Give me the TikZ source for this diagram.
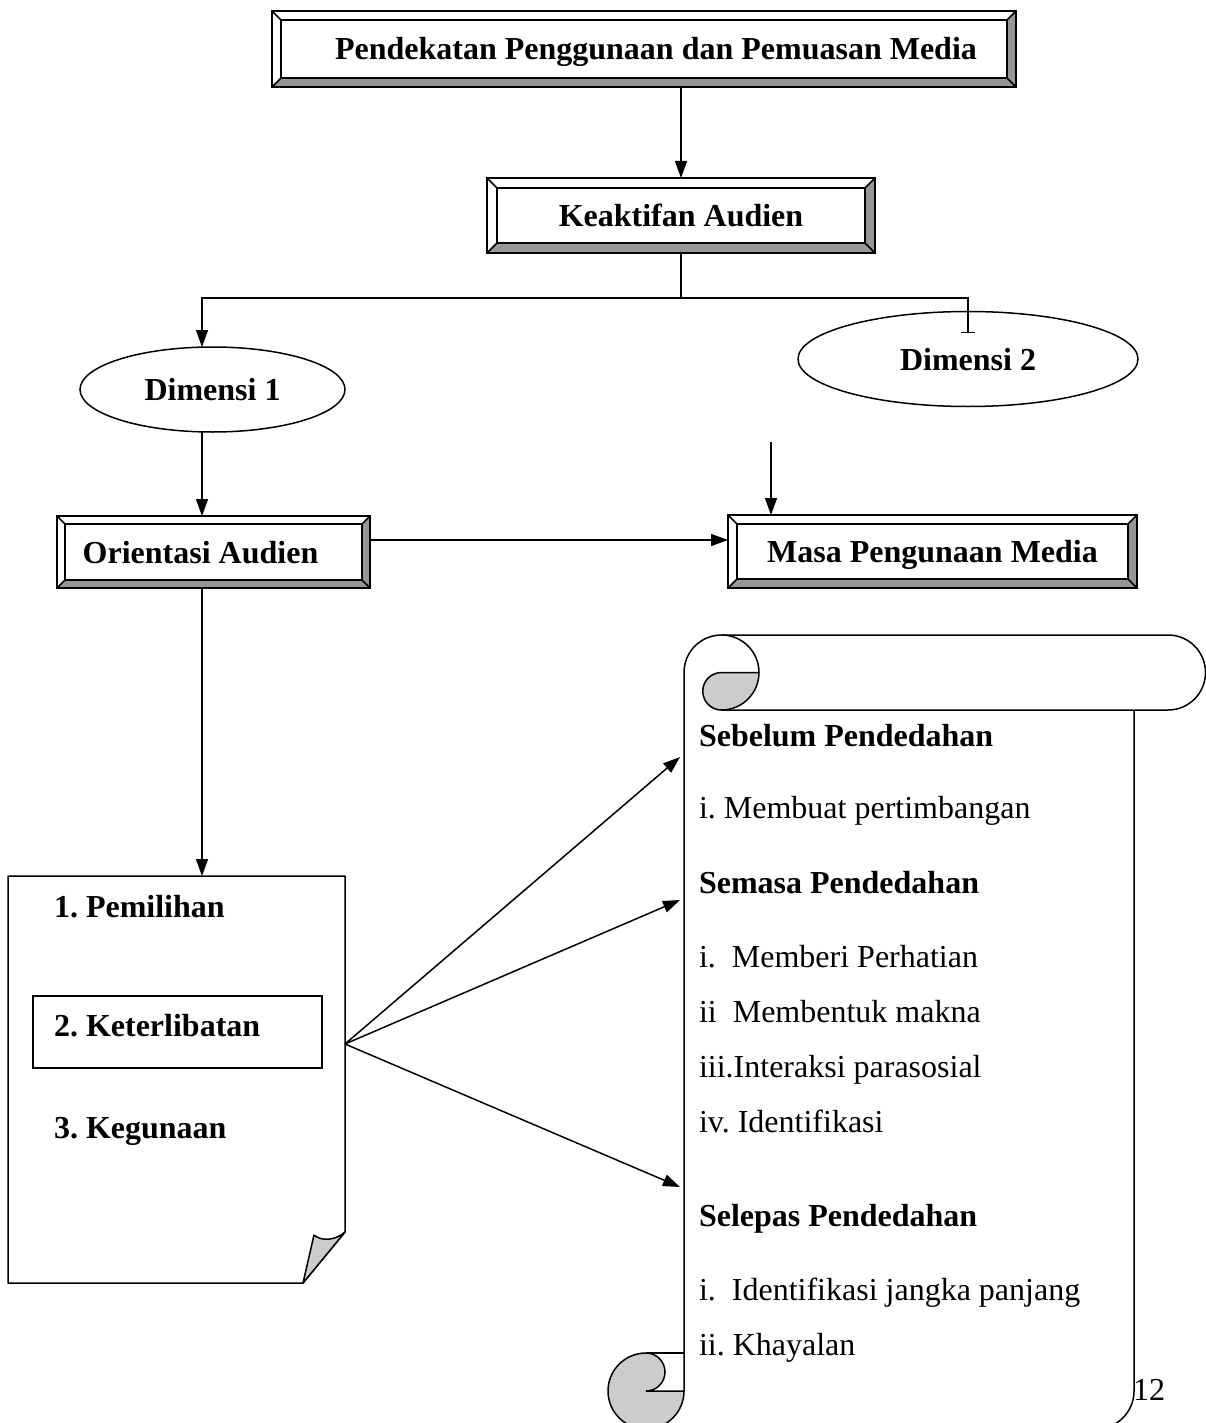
\documentclass[tikz,border=0pt]{standalone}
\usepackage{fontspec}
\setmainfont{Liberation Serif}
\usetikzlibrary{arrows.meta,shapes.geometric,calc}
\definecolor{bevdark}{RGB}{150,150,150}
\definecolor{scrollgray}{RGB}{204,204,204}
\frenchspacing
\newcommand\bevelize[2]{%
  \fill[bevdark] (#1.south west) -- (#1.south east) -- ([shift={(-#2pt,#2pt)}]#1.south east) -- ([shift={(#2pt,#2pt)}]#1.south west) -- cycle;
  \fill[bevdark] (#1.north east) -- (#1.south east) -- ([shift={(-#2pt,#2pt)}]#1.south east) -- ([shift={(-#2pt,-#2pt)}]#1.north east) -- cycle;
  \draw (#1.south west) rectangle (#1.north east);
  \draw ([shift={(#2pt,#2pt)}]#1.south west) rectangle ([shift={(-#2pt,-#2pt)}]#1.north east);
  \draw (#1.south west) -- ([shift={(#2pt,#2pt)}]#1.south west);
  \draw (#1.south east) -- ([shift={(-#2pt,#2pt)}]#1.south east);
  \draw (#1.north west) -- ([shift={(#2pt,-#2pt)}]#1.north west);
  \draw (#1.north east) -- ([shift={(-#2pt,-#2pt)}]#1.north east);
}
\tikzset{
  txt/.style={font=\fontsize{32pt}{38pt}\selectfont, inner sep=0pt, outer sep=0pt},
  btxt/.style={font=\fontsize{32pt}{38pt}\selectfont\bfseries, inner sep=0pt, outer sep=0pt},
  bevbox/.style={draw, fill=white, outer sep=0pt, inner sep=0pt,
    font=\fontsize{32pt}{38pt}\selectfont\bfseries, text height=22pt, text depth=0pt},
  oval/.style={ellipse, draw, fill=white, outer sep=0pt, inner sep=0pt,
    font=\fontsize{32pt}{38pt}\selectfont\bfseries, text height=22pt, text depth=0pt},
  arr/.style={-{Triangle[length=17pt,width=12pt]}},
  barend/.style={-{Bar[width=14pt]}},
}
\begin{document}
\begin{tikzpicture}[x=1pt,y=-1pt,line width=1.5pt]
\fill[white] (0,0) rectangle (1206,1423);
\useasboundingbox (0,0) rectangle (1206,1423);

% boxes
\node[bevbox, minimum width=744pt, minimum height=76pt] (top) at (644,49) {\kern24pt Pendekatan Penggunaan dan Pemuasan Media};
\bevelize{top}{9}
\node[bevbox, minimum width=388pt, minimum height=75pt] (keak) at (681,215.5) {Keaktifan Audien};
\bevelize{keak}{10}
\node[oval, minimum width=265pt, minimum height=85pt] (d1) at (212.5,389.5) {Dimensi 1};
\node[oval, minimum width=340pt, minimum height=95pt] (d2) at (968,359) {Dimensi 2};
\node[bevbox, minimum width=313pt, minimum height=72pt] (ori) at (213.5,552) {Orientasi Audien\kern26pt};
\bevelize{ori}{8}
\node[bevbox, minimum width=409pt, minimum height=73pt] (masa) at (932.5,551.5) {Masa Pengunaan Media};
\bevelize{masa}{9}

% connectors
\coordinate (colx) at (202,0);
\coordinate (split) at (681,298);
\draw[arr] (keak.north |- top.south) -- (keak.north);
\draw (keak.south) -- (split);
\draw[arr] (split) -| (d1.north -| colx);
\draw[barend] (split) -| ([yshift=-21.5pt]d2.north);
\draw[arr] (d1.south -| colx) -- (ori.north -| colx);
\draw[arr] ([yshift=12pt]ori.east) coordinate (h1) -- (h1 -| masa.west);
\coordinate (d2out) at (771,442);
\draw[arr] (d2out) -- (d2out |- masa.north);
\coordinate (docn) at (202,876);
\draw[arr] (ori.south -| colx) -- (docn);

% document shape
\draw[fill=white, line join=round] (8,876) -- (345,876) -- (345,1232) -- (303,1283) -- (8,1283) -- cycle;
\draw[fill=scrollgray, line join=round] (303,1283) -- (314,1235) .. controls (322,1242) and (336,1240) .. (345,1232) -- cycle;
\node[draw, minimum width=289pt, minimum height=72pt, outer sep=0pt, inner sep=0pt] (ketbox) at (177.5,1032) {};
\node[btxt, anchor=base west] (p1) at (54,917) {1. Pemilihan};
\node[btxt, anchor=base west] (p2) at (54,1036) {2. Keterlibatan};
\node[btxt, anchor=base west] (p3) at (54,1138) {3. Kegunaan};

% fan arrows
\coordinate (fan) at (345,1044);
\coordinate (t1) at (680,757);
\coordinate (t2) at (680,900);
\coordinate (t3) at (680,1187);
\draw[arr] (fan) -- (t1);
\draw[arr] (fan) -- (t2);
\draw[arr] (fan) -- (t3);

% scroll
\draw (684,1391) -- (684,672.5) arc[start angle=180,end angle=90,radius=37.5pt] -- (1168,635) arc[start angle=90,end angle=-90,radius=37.5pt] -- (721.5,710);
\draw (721.5,635) arc[start angle=90,end angle=0,radius=37.5pt];
\draw[fill=scrollgray] (721.5,672.5) -- (759,672.5) arc[start angle=0,end angle=-90,radius=37.5pt] arc[start angle=-90,end angle=-270,radius=18.75pt] -- cycle;
\draw (1134,710) -- (1134,1391) arc[start angle=0,end angle=-90,radius=38pt] -- (646,1429);
\draw[fill=scrollgray] (684,1391) arc[start angle=0,end angle=-270,radius=38pt] arc[start angle=90,end angle=-90,radius=19pt] -- cycle;
\draw (646,1353) -- (684,1353);

\node[btxt, anchor=base west] (s1) at (699,746) {Sebelum Pendedahan};
\node[txt, anchor=base west] (s2) at (699,818) {i. Membuat pertimbangan};
\node[btxt, anchor=base west] (s3) at (699,893) {Semasa Pendedahan};
\node[txt, anchor=base west] (s4) at (699,967) {i.\ \ Memberi Perhatian};
\node[txt, anchor=base west] (s5) at (699,1022) {ii\ \ Membentuk makna};
\node[txt, anchor=base west] (s6) at (699,1077) {iii.Interaksi parasosial};
\node[txt, anchor=base west] (s7) at (699,1132) {iv. Identifikasi};
\node[btxt, anchor=base west] (s8) at (699,1226) {Selepas Pendedahan};
\node[txt, anchor=base west] (s9) at (699,1300) {i.\ \ Identifikasi jangka panjang};
\node[txt, anchor=base west] (s10) at (699,1355) {ii. Khayalan};
\node[txt, anchor=base west] (pg) at (1133,1400) {12};
\end{tikzpicture}
\end{document}
